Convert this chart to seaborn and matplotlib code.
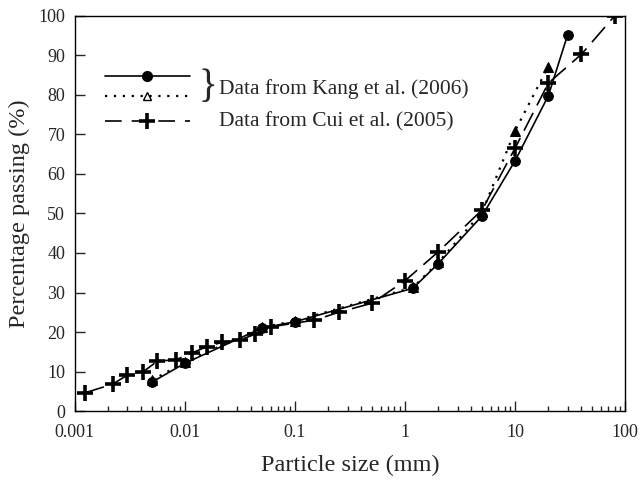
import matplotlib
matplotlib.use("Agg")
import matplotlib.pyplot as plt
import seaborn as sns
import pandas as pd
from matplotlib.lines import Line2D

# Kang et al. (2006) - solid line, circles
kang_size = [0.005, 0.01, 0.05, 0.1, 1.18, 2.0, 5.0, 10.0, 20.0, 30.0]
kang_pass = [7.3, 12.1, 21.0, 22.6, 31.1, 37.3, 49.4, 63.4, 79.8, 95.3]

# Kang et al. (2006) - dotted line, triangles
kang2_size = [0.005, 0.01, 0.05, 0.1, 1.18, 2.0, 5.0, 10.0, 20.0]
kang2_pass = [7.8, 12.4, 21.2, 22.8, 31.3, 37.6, 50.3, 71.0, 87.2]

# Cui et al. (2005) - dashed line, plus
cui_size = [0.00123, 0.0022, 0.003, 0.0042, 0.0056, 0.0083, 0.0116, 0.0158,
            0.0217, 0.0316, 0.043, 0.06, 0.15, 0.25, 0.5, 1.0, 2.0, 5.0,
            10.0, 20.0, 40.0, 80.0]
cui_pass = [4.6, 6.8, 9.1, 10.0, 12.6, 13.0, 14.7, 16.3, 17.4, 18.0, 19.4,
            21.3, 23.0, 25.0, 27.3, 33.0, 40.3, 50.9, 66.6, 83.0, 90.3, 100.0]

x_ticks = [0.001, 0.01, 0.1, 1, 10, 100]
x_tick_labels = ["0.001", "0.01", "0.1", "1", "10", "100"]
y_ticks = list(range(0, 101, 10))

sns.set_style("ticks")
plt.rcParams['font.family'] = ['Liberation Serif', 'DejaVu Serif']
plt.rcParams['xtick.direction'] = 'in'
plt.rcParams['ytick.direction'] = 'in'

fig = plt.figure(figsize=(6.4, 4.83), dpi=100)
ax = fig.add_axes([0.117, 0.149, 0.860, 0.818])

kang_df = pd.DataFrame({'size': kang_size, 'passing': kang_pass})
kang2_df = pd.DataFrame({'size': kang2_size, 'passing': kang2_pass})
cui_df = pd.DataFrame({'size': cui_size, 'passing': cui_pass})

sns.lineplot(data=kang2_df, x='size', y='passing', ax=ax, sort=False,
             color='black', linestyle=(0, (1, 3)), linewidth=1.6,
             marker='^', markersize=7, markeredgecolor='black', zorder=2)
sns.lineplot(data=cui_df, x='size', y='passing', ax=ax, sort=False,
             color='black', linestyle=(0, (12, 5)), linewidth=1.2,
             marker='P', markersize=0.1, zorder=3)
ax.plot(cui_df['size'], cui_df['passing'], linestyle='none', marker='+',
        markersize=11, markeredgewidth=2.6, color='black', zorder=4)
sns.lineplot(data=kang_df, x='size', y='passing', ax=ax, sort=False,
             color='black', linestyle='-', linewidth=1.2,
             marker='o', markersize=7, markeredgecolor='black', zorder=5)

ax.set_xscale('log')
ax.set_xlim(0.001, 100)
ax.set_ylim(0, 100)
ax.set_xticks(x_ticks)
ax.set_xticklabels(x_tick_labels)
ax.set_yticks(y_ticks)
ax.tick_params(axis='both', which='major', labelsize=13, length=7, width=1,
               top=False, right=False)
ax.tick_params(axis='x', which='major', pad=9)
ax.tick_params(axis='y', which='major', pad=7)
ax.tick_params(axis='x', which='minor', length=3.6, width=1, top=False)
for s in ax.spines.values():
    s.set_linewidth(1.0)
    s.set_color('black')

ax.set_xlabel('Particle size (mm)', fontsize=17.5, labelpad=10)
ax.set_ylabel('Percentage passing (%)', fontsize=17.5, labelpad=6)

# Legend: handles only, labels drawn as separate texts
h1 = Line2D([], [], color='black', linestyle='-', linewidth=1.2, marker='o',
            markersize=7)
h2 = Line2D([], [], color='black', linestyle=(0, (1, 3)), linewidth=1.6,
            marker='^', markersize=6, markerfacecolor='white')
h3 = Line2D([], [], color='black', linestyle=(0, (10, 6)), linewidth=1.2,
            marker='+', markersize=11, markeredgewidth=2.6)
leg_kw = dict(loc='center left', frameon=False, fontsize=12.5,
              handlelength=4.9, handletextpad=0, labelspacing=0.2,
              borderaxespad=0, borderpad=0)
leg1 = ax.legend([h1, h2], ['', ''], bbox_to_anchor=(0.0545, 0.818), **leg_kw)
ax.add_artist(leg1)
ax.legend([h3], [''], bbox_to_anchor=(0.0545, 0.729), **leg_kw)

ax.text(0.225, 0.819, '}', transform=ax.transAxes, fontsize=28,
        va='center', ha='left')
ax.text(0.262, 0.816, 'Data from Kang et al. (2006)', transform=ax.transAxes,
        fontsize=15.5, va='center', ha='left')
ax.text(0.262, 0.731, 'Data from Cui et al. (2005)', transform=ax.transAxes,
        fontsize=15.5, va='center', ha='left')

fig.savefig('out.png', dpi=100)
